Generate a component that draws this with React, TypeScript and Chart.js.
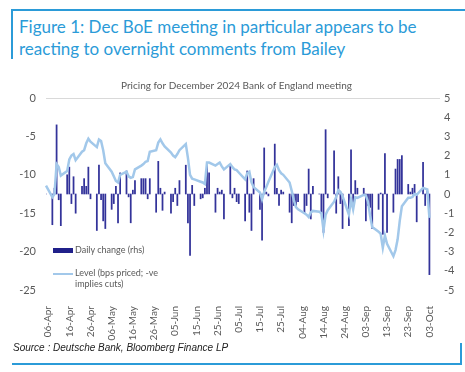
import React, { useEffect, useRef } from "react";
import { Chart, registerables } from "chart.js";
Chart.register(...registerables);

// Business days (ISO dates)
const dates = [
  "2024-04-05",
  "2024-04-08","2024-04-09","2024-04-10","2024-04-11","2024-04-12",
  "2024-04-15","2024-04-16","2024-04-17","2024-04-18","2024-04-19",
  "2024-04-22","2024-04-23","2024-04-24","2024-04-25","2024-04-26",
  "2024-04-29","2024-04-30","2024-05-01","2024-05-02","2024-05-03",
  "2024-05-06","2024-05-07","2024-05-08","2024-05-09","2024-05-10",
  "2024-05-13","2024-05-14","2024-05-15","2024-05-16","2024-05-17",
  "2024-05-20","2024-05-21","2024-05-22","2024-05-23","2024-05-24",
  "2024-05-27","2024-05-28","2024-05-29","2024-05-30","2024-05-31",
  "2024-06-03","2024-06-04","2024-06-05","2024-06-06","2024-06-07",
  "2024-06-10","2024-06-11","2024-06-12","2024-06-13","2024-06-14",
  "2024-06-17","2024-06-18","2024-06-19","2024-06-20","2024-06-21",
  "2024-06-24","2024-06-25","2024-06-26","2024-06-27","2024-06-28",
  "2024-07-01","2024-07-02","2024-07-03","2024-07-04","2024-07-05",
  "2024-07-08","2024-07-09","2024-07-10","2024-07-11","2024-07-12",
  "2024-07-15","2024-07-16","2024-07-17","2024-07-18","2024-07-19",
  "2024-07-22","2024-07-23","2024-07-24","2024-07-25","2024-07-26",
  "2024-07-29","2024-07-30","2024-07-31","2024-08-01","2024-08-02",
  "2024-08-05","2024-08-06","2024-08-07","2024-08-08","2024-08-09",
  "2024-08-12","2024-08-13","2024-08-14","2024-08-15","2024-08-16",
  "2024-08-19","2024-08-20","2024-08-21","2024-08-22","2024-08-23",
  "2024-08-26","2024-08-27","2024-08-28","2024-08-29","2024-08-30",
  "2024-09-02","2024-09-03","2024-09-04","2024-09-05","2024-09-06",
  "2024-09-09","2024-09-10","2024-09-11","2024-09-12","2024-09-13",
  "2024-09-16","2024-09-17","2024-09-18","2024-09-19","2024-09-20",
  "2024-09-23","2024-09-24","2024-09-25","2024-09-26","2024-09-27",
  "2024-09-30","2024-10-01","2024-10-02","2024-10-03",
];

// Daily change (rhs, bps)
const dailyChange = [
  0,
  -1.6, 0.3, 3.6, -0.3, -1.65,
  1.0, 1.4, -0.5, 0.9, -1.0,
  0.4, 0.8, 0.4, 1.4, -0.25,
  -1.9, 1.5, -0.3, -1.4, -1.8,
  -0.8, -0.5, 0.4, -1.5, 1.1,
  1.2, -0.15, -1.5, 0.2, 0.7,
  0.8, 0.8, 0.8, -0.25, 0.8,
  -0.95, 1.7, 0.3, -0.85, 0.1,
  -1.0, -0.4, 0.3, -0.6, 0.7,
  1.5, -1.5, -3.2, 0.45, -0.6,
  -0.25, -0.2, 0.3, 1.5, 1.1,
  -0.95, 0.3, 0.1, 0.2, -1.3,
  1.5, -0.2, 0.3, -0.4, -0.5,
  -1.4, 1.2, -0.95, -1.9, 0.8,
  -0.8, -2.4, 2.4, 0.1, -0.1,
  2.6, 0.3, -0.6, 0.2, 0.1,
  -0.95, -1.5, -0.6, -0.6, -0.4,
  -1.0, -0.6, 1.3, -1.3, 0.4,
  0, -1.0, -2.0, 3.35, -0.2,
  2.25, -1.0, 0.9, -0.5, -1.8,
  -1.65, 2.3, -0.6, 0.7, 0.3,
  0.3, -1.4, -0.6, -0.7, -1.8,
  -0.8, 0.05, -2.1, 2.1, -2.0,
  -0.95, 1.3, 1.8, 1.8, 2.0,
  0.5, 0.1, 0.3, 0.5, -1.45,
  1.65, -0.6, 0.15, -4.2,
];

// Level (bps priced; lhs)
const level = [
  -11.4,
  -12.9, -12.5, -8.6, -9.0, -10.1,
  -9.5, -8.0, -7.5, -7.3, -8.1,
  -7.0, -6.8, -5.9, -5.3, -5.7,
  -6.4, -5.4, -5.6, -6.8, -8.5,
  -9.6, -10.2, -10.8, -11.0, -10.0,
  -9.6, -10.2, -10.4, -10.3, -9.3,
  -8.8, -8.6, -8.3, -8.2, -7.0,
  -6.8, -5.8, -5.4, -5.9, -6.3,
  -7.1, -7.5, -7.7, -7.3, -6.8,
  -6.0, -7.8, -10.0, -10.5, -10.6,
  -10.9, -11.0, -11.2, -8.4, -8.4,
  -8.8, -8.6, -8.4, -8.9, -9.3,
  -8.6, -9.0, -9.3, -9.4, -9.7,
  -10.6, -9.8, -9.6, -11.0, -11.6,
  -12.3, -13.2, -12.2, -11.6, -10.9,
  -9.0, -8.7, -9.4, -9.8, -10.0,
  -11.0, -12.1, -13.3, -14.2, -14.5,
  -15.0, -15.2, -15.5, -14.9, -14.7,
  -14.8, -15.0, -17.2, -15.2, -14.6,
  -13.5, -12.9, -12.0, -12.2, -12.8,
  -15.2, -13.2, -14.5, -12.9, -13.0,
  -12.6, -12.7, -13.5, -15.3, -16.8,
  -17.4, -17.7, -19.5, -17.9, -19.0,
  -20.6, -19.8, -18.4, -16.0, -14.1,
  -13.0, -13.0, -12.9, -12.5, -12.6,
  -11.7, -11.8, -11.9, -15.6,
];

const tickLabels = [
  "06-Apr","16-Apr","26-Apr","06-May","16-May","26-May","05-Jun","15-Jun","25-Jun",
  "05-Jul","15-Jul","25-Jul","04-Aug","14-Aug","24-Aug","03-Sep","13-Sep","23-Sep","03-Oct",
];

const axisStart = "2024-04-05";
const axisEnd = "2024-10-08";

const MONTHS = ["Jan","Feb","Mar","Apr","May","Jun","Jul","Aug","Sep","Oct","Nov","Dec"];
const DAY = 86400000;
const toUTC = (s: string) => {
  const [y, m, d] = s.split("-").map(Number);
  return Date.UTC(y, m - 1, d);
};
const fmt = (t: number) => {
  const d = new Date(t);
  return String(d.getUTCDate()).padStart(2, "0") + "-" + MONTHS[d.getUTCMonth()];
};

const FONT = "Lato, 'Liberation Sans', sans-serif";
const GREY = "#595959";
const BLUE = "#2b9bd8";
const BAR = "#33339a";
const LINE = "#a2c8ea";

export default function App() {
  const ref = useRef<HTMLCanvasElement | null>(null);
  useEffect(() => {
    document.body.style.margin = "0";
    const t0 = toUTC(axisStart);
    const n = Math.round((toUTC(axisEnd) - t0) / DAY) + 1;
    const labels: string[] = [];
    for (let i = 0; i < n; i++) labels.push(fmt(t0 + i * DAY));
    const changeCal: (number | null)[] = new Array(n).fill(null);
    const levelCal: (number | null)[] = new Array(n).fill(null);
    dates.forEach((d, k) => {
      const idx = Math.round((toUTC(d) - t0) / DAY);
      changeCal[idx] = dailyChange[k];
      levelCal[idx] = level[k];
    });
    const chart = new Chart(ref.current!, {
      type: "bar",
      data: {
        labels,
        datasets: [
          {
            type: "line",
            label: "Level (bps priced; -ve implies cuts)",
            data: levelCal,
            borderColor: LINE,
            borderWidth: 2.5,
            pointRadius: 0,
            spanGaps: true,
            tension: 0,
            yAxisID: "y",
            order: 0,
          } as any,
          {
            type: "bar",
            label: "Daily change (rhs)",
            data: changeCal,
            backgroundColor: BAR,
            barThickness: 1.1,
            yAxisID: "y1",
            order: 1,
          } as any,
        ],
      },
      options: {
        animation: false,
        responsive: false,
        maintainAspectRatio: false,
        layout: { padding: { left: 8, right: 0, top: 0, bottom: 0 } },
        plugins: {
          legend: { display: false },
          tooltip: { enabled: false },
          title: {
            display: true,
            text: "Pricing for December 2024 Bank of England meeting",
            color: GREY,
            font: { family: FONT, size: 10, weight: "normal" },
            padding: { top: 10, bottom: 6 },
          },
        },
        scales: {
          x: {
            offset: false,
            grid: { display: false },
            border: { display: false },
            ticks: {
              autoSkip: false,
              maxRotation: 90,
              minRotation: 90,
              padding: 8,
              color: GREY,
              font: { family: FONT, size: 10 },
              callback: (_v: any, i: number) =>
                tickLabels.includes(labels[i]) ? labels[i] : null,
            },
            afterFit: (s: any) => { s.height = 60; },
          },
          y: {
            position: "left",
            min: -25,
            max: 0,
            ticks: { stepSize: 5, color: GREY, font: { family: FONT, size: 11 }, padding: 10 },
            grid: {
              drawTicks: false,
              color: (c: any) => (c.tick && c.tick.value === 0 ? "#d9d9d9" : "rgba(0,0,0,0)"),
            },
            border: { display: false },
            afterFit: (s: any) => { s.width = 38; },
          },
          y1: {
            position: "right",
            min: -5,
            max: 5,
            ticks: { stepSize: 1, color: GREY, font: { family: FONT, size: 11 }, padding: 4 },
            grid: { display: false, drawTicks: false },
            border: { display: false },
            afterFit: (s: any) => { s.width = 25; },
          },
        },
      } as any,
    });
    return () => chart.destroy();
  }, []);

  const abs = (o: React.CSSProperties): React.CSSProperties => ({ position: "absolute", ...o });
  return (
    <div style={{ position: "relative", width: 465, height: 372, overflow: "hidden", background: "#fff", fontFamily: FONT }}>
      <div style={abs({ left: 11, top: 9, width: 454, height: 2, background: BLUE })} />
      <div style={abs({ left: 11, top: 9, width: 2, height: 50, background: BLUE })} />
      <div style={abs({ left: 19, top: 16, color: BLUE, fontSize: 17, lineHeight: "22px", whiteSpace: "nowrap" })}>
        Figure 1: Dec BoE meeting in particular appears to be
        <br />
        reacting to overnight comments from Bailey
      </div>
      <canvas ref={ref} width={465} height={280} style={abs({ left: 0, top: 70, width: 465, height: 280 })} />
      <div style={abs({ left: 53, top: 247.5, width: 20, height: 5, background: "#20208a" })} />
      <div style={abs({ left: 75, top: 244, fontSize: 9, lineHeight: "12px", color: GREY, whiteSpace: "nowrap" })}>
        Daily change (rhs)
      </div>
      <div style={abs({ left: 53, top: 272.5, width: 20, height: 2, background: LINE })} />
      <div style={abs({ left: 75, top: 268, fontSize: 9, lineHeight: "10.5px", color: GREY, whiteSpace: "nowrap" })}>
        Level (bps priced; -ve
        <br />
        implies cuts)
      </div>
      <div style={abs({ left: 13, top: 342, fontSize: 10, fontStyle: "italic", color: "#222", fontFamily: "'Liberation Sans', Arial, sans-serif", whiteSpace: "nowrap" })}>
        Source : Deutsche Bank, Bloomberg Finance LP
      </div>
      <div style={abs({ left: 12, top: 362.5, width: 450, height: 2, background: BLUE })} />
      <div style={abs({ left: 460, top: 343, width: 2, height: 21.5, background: BLUE })} />
    </div>
  );
}
